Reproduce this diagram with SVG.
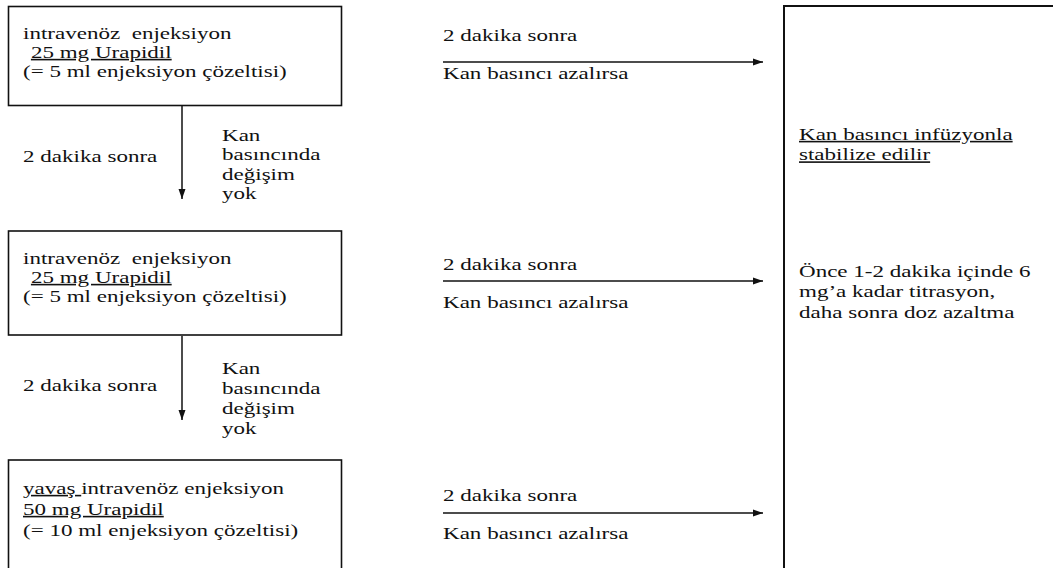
<svg xmlns="http://www.w3.org/2000/svg" width="1053" height="568" viewBox="0 0 1053 568">
<style>
.box{fill:#fff;stroke:#111;stroke-width:1.6}
.t{font-family:"Liberation Serif","Times New Roman",serif;font-size:16px;fill:#111}
.u{text-decoration:underline}
.ln{stroke:#111;stroke-width:1.5;fill:none}
</style>
<defs>
<marker id="ah" markerUnits="userSpaceOnUse" markerWidth="12" markerHeight="10" refX="10" refY="4" orient="auto">
<path d="M0,0.5 L10,4 L0,7.5 Z" fill="#111"/>
</marker>
</defs>
<rect width="1053" height="568" fill="#fff"/>

<g id="box1">
<rect class="box" x="8.5" y="6.5" width="333" height="99"/>
<text class="t" xml:space="preserve" transform="translate(23,39) scale(1.44,1)"><tspan x="0" y="0">intravenöz  enjeksiyon</tspan><tspan class="u" x="5.5" y="19">25 mg Urapidil</tspan><tspan x="0" y="38">(= 5 ml enjeksiyon çözeltisi)</tspan></text>
</g>

<g id="box2">
<rect class="box" x="8.5" y="231" width="333" height="104"/>
<text class="t" xml:space="preserve" transform="translate(23,264) scale(1.44,1)"><tspan x="0" y="0">intravenöz  enjeksiyon</tspan><tspan class="u" x="5.5" y="19">25 mg Urapidil</tspan><tspan x="0" y="38">(= 5 ml enjeksiyon çözeltisi)</tspan></text>
</g>

<g id="box3">
<rect class="box" x="8.5" y="460" width="333" height="130"/>
<text class="t" xml:space="preserve" transform="translate(23,494) scale(1.44,1)"><tspan x="0" y="0"><tspan class="u">yavaş </tspan>intravenöz enjeksiyon</tspan><tspan class="u" x="0" y="21">50 mg Urapidil</tspan><tspan x="0" y="42">(= 10 ml enjeksiyon çözeltisi)</tspan></text>
</g>

<g id="result">
<rect class="box" x="784" y="6" width="300" height="600" style="stroke-width:2"/>
<text class="t" transform="translate(799,140) scale(1.44,1)"><tspan class="u" x="0" y="0">Kan basıncı infüzyonla</tspan><tspan class="u" x="0" y="20.5">stabilize edilir</tspan></text>
<text class="t" transform="translate(799,277) scale(1.44,1)"><tspan x="0" y="0">Önce 1-2 dakika içinde 6</tspan><tspan x="0" y="20.5">mg’a kadar titrasyon,</tspan><tspan x="0" y="41">daha sonra doz azaltma</tspan></text>
</g>

<g id="connectors">
<line class="ln" x1="182" y1="106" x2="182" y2="199" marker-end="url(#ah)"/>
<line class="ln" x1="182" y1="336" x2="182" y2="420" marker-end="url(#ah)"/>
<line class="ln" x1="443" y1="62" x2="763" y2="62" marker-end="url(#ah)"/>
<line class="ln" x1="443" y1="281" x2="763" y2="281" marker-end="url(#ah)"/>
<line class="ln" x1="443" y1="513" x2="763" y2="513" marker-end="url(#ah)"/>

<text class="t" transform="translate(23,162) scale(1.44,1)">2 dakika sonra</text>
<text class="t" transform="translate(222,141) scale(1.44,1)"><tspan x="0" y="0">Kan</tspan><tspan x="0" y="19.5">basıncında</tspan><tspan x="0" y="39">değişim</tspan><tspan x="0" y="58.5">yok</tspan></text>

<text class="t" transform="translate(23,391) scale(1.44,1)">2 dakika sonra</text>
<text class="t" transform="translate(222,374) scale(1.44,1)"><tspan x="0" y="0">Kan</tspan><tspan x="0" y="20">basıncında</tspan><tspan x="0" y="40">değişim</tspan><tspan x="0" y="60">yok</tspan></text>

<text class="t" transform="translate(443,41) scale(1.44,1)">2 dakika sonra</text>
<text class="t" transform="translate(443,79) scale(1.44,1)">Kan basıncı azalırsa</text>
<text class="t" transform="translate(443,270) scale(1.44,1)">2 dakika sonra</text>
<text class="t" transform="translate(443,308) scale(1.44,1)">Kan basıncı azalırsa</text>
<text class="t" transform="translate(443,501) scale(1.44,1)">2 dakika sonra</text>
<text class="t" transform="translate(443,539) scale(1.44,1)">Kan basıncı azalırsa</text>
</g>
</svg>
